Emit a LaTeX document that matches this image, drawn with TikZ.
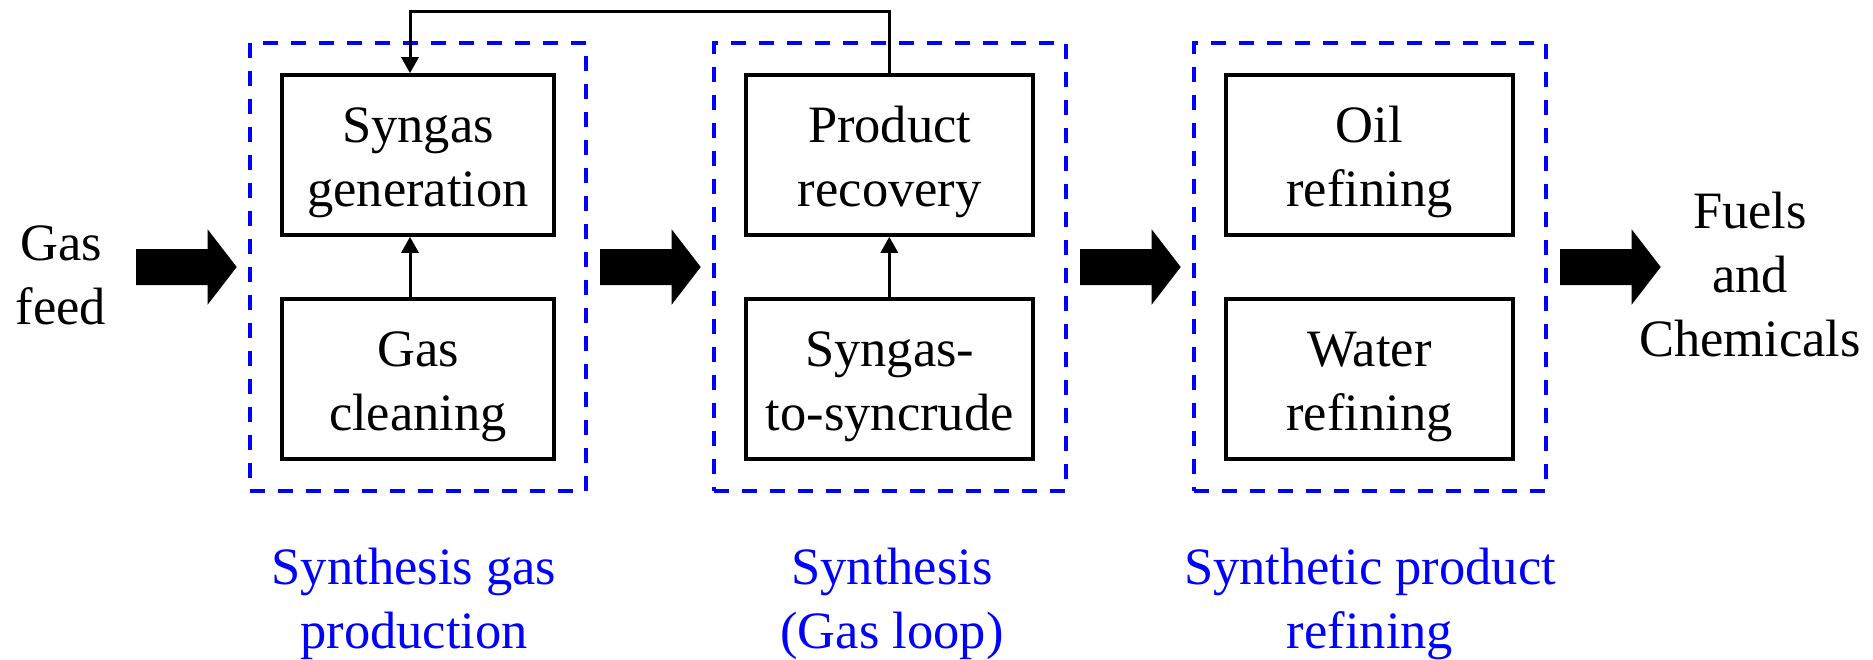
\documentclass[tikz,border=0pt]{standalone}
\usepackage{fontspec}
\setmainfont{Liberation Serif}
\usetikzlibrary{arrows.meta}
\newcommand\ls{\rule[-6.25pt]{0pt}{32pt}}
\newcommand\fatarr[1]{\fill[black] (#1) ++(0,-18) -- ++(71.7,0) -- ++(0,-19.6) -- ++(29,37.6) -- ++(-29,37.6) -- ++(0,-19.6) -- ++(-71.7,0) -- cycle;}
\tikzset{
  txt/.style={font=\fontsize{26.25pt}{32pt}\selectfont, align=center, inner sep=0pt},
  procbox/.style={txt, draw=black, line width=1.8pt, minimum height=80pt},
  grpbox/.style={draw=blue, line width=1.75pt, dash pattern=on 7.5pt off 6.5pt, minimum height=224pt},
  grplabel/.style={txt, text=blue},
  flow/.style={draw=black, line width=1.5pt, -{Triangle[width=8.5pt,length=8pt]}},
}
\begin{document}
\begin{tikzpicture}[x=0.5pt,y=-0.5pt]
\useasboundingbox (0,0) rectangle (1873,659);
% groups
\node[grpbox, minimum width=168pt] (g1) at (418,266.8) {};
\node[grpbox, minimum width=176pt] (g2) at (890,266.8) {};
\node[grpbox, minimum width=176pt] (g3) at (1370,266.8) {};
% process boxes
\node[procbox, minimum width=136pt] (up1) at (418,155) {\ls Syngas\\\ls generation};
\node[procbox, minimum width=136pt] (lo1) at (418,379) {\ls Gas\\\ls cleaning};
\node[procbox, minimum width=143.5pt] (up2) at (889.7,155) {\ls Product\\\ls recovery};
\node[procbox, minimum width=143.5pt] (lo2) at (889.7,379) {\ls Syngas-\\\ls to-syncrude};
\node[procbox, minimum width=143.5pt] (up3) at (1369.5,155) {\ls Oil\\\ls refining};
\node[procbox, minimum width=143.5pt] (lo3) at (1369.5,379) {\ls Water\\\ls refining};
% outer texts
\node[txt] (feed) at (61,272.5) {\ls Gas\\\ls feed};
\node[txt] (out) at (1750,272.8) {\ls Fuels\\\ls and\\\ls Chemicals};
% group labels
\node[grplabel] (l1) at (414,597) {\ls Synthesis gas\\\ls production};
\node[grplabel] (l2) at (892,597) {\ls Synthesis\\\ls (Gas loop)};
\node[grplabel] (l3) at (1370,597) {\ls Synthetic product\\\ls refining};
% thin arrows
\coordinate (c1) at (410,11);
\coordinate (c2) at (889.3,11);
\draw[flow] (lo1.north -| c1) -- (up1.south -| c1);
\draw[flow] (lo2.north -| c2) -- (up2.south -| c2);
\draw[flow] (up2.north -| c2) -- (c2) -- (c1) -- (up1.north -| c1);
% fat arrows
\coordinate (a1) at (136,267);
\coordinate (a2) at (600,267);
\coordinate (a3) at (1080,267);
\coordinate (a4) at (1560,267);
\fatarr{a1}
\fatarr{a2}
\fatarr{a3}
\fatarr{a4}
\end{tikzpicture}
\end{document}
